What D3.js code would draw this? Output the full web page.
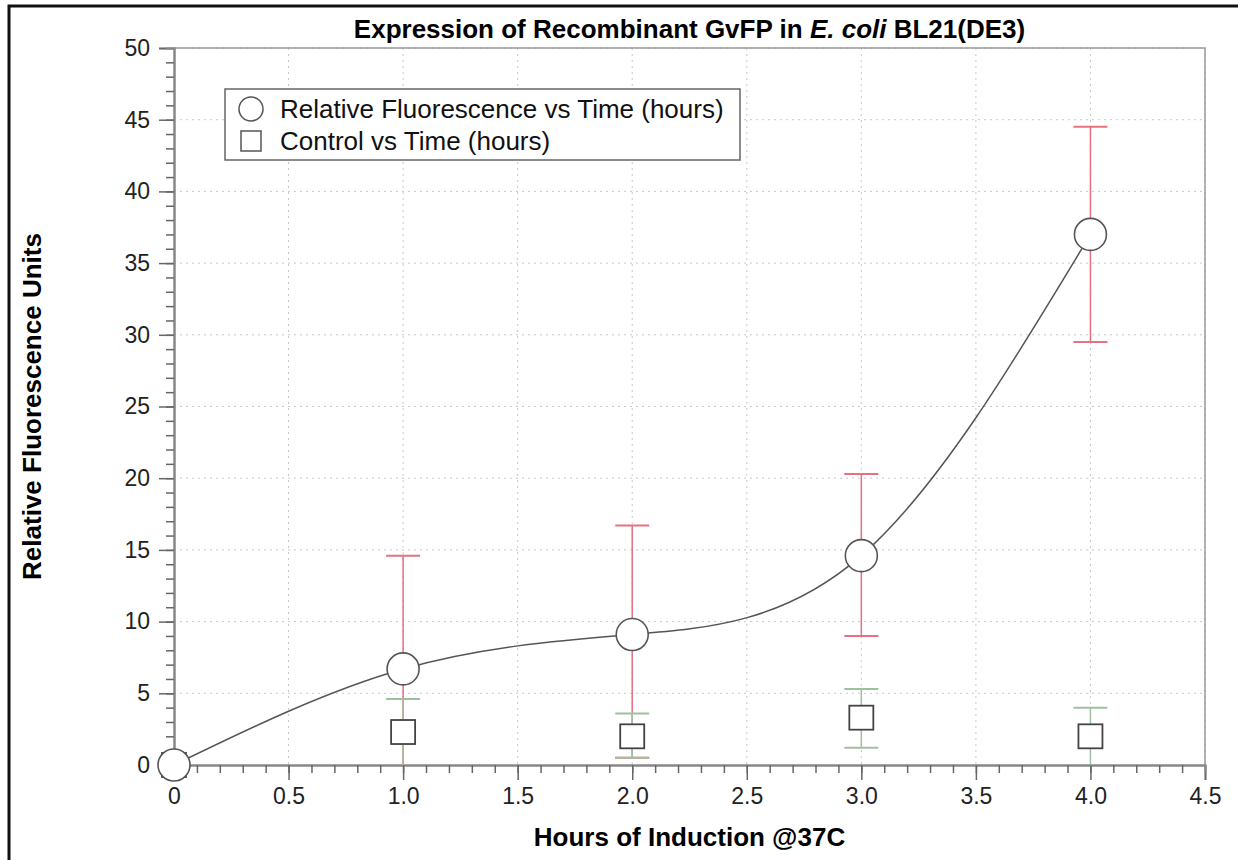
<!DOCTYPE html>
<html>
<head>
<meta charset="utf-8">
<script src="https://cdn.jsdelivr.net/npm/d3@7"></script>
<style>
body { margin: 0; background: #fff; }
svg { font-family: "Liberation Sans", Arial, sans-serif; }
</style>
</head>
<body>
<div id="chart"></div>
<script>
// hours of induction
var aHours = [0, 1, 2, 3, 4];
// relative fluorescence (mean, upper, lower)
var aFluor = [0, 6.7, 9.1, 14.6, 37.0];
var aFluorHi = [0, 14.6, 16.7, 20.3, 44.5];
var aFluorLo = [0, -1.2, 0.5, 9.0, 29.5];
// control
var aCtrl = [0, 2.3, 2.0, 3.3, 2.0];
var aCtrlHi = [0, 4.6, 3.6, 5.3, 4.0];
var aCtrlLo = [0, 0.0, 0.5, 1.2, 0.0];
var aXTicks = [0, 0.5, 1.0, 1.5, 2.0, 2.5, 3.0, 3.5, 4.0, 4.5];
var aXTickLabels = ["0", "0.5", "1.0", "1.5", "2.0", "2.5", "3.0", "3.5", "4.0", "4.5"];
var aYTicks = [0, 5, 10, 15, 20, 25, 30, 35, 40, 45, 50];
var aLegend = ["Relative Fluorescence vs Time (hours)", "Control vs Time (hours)"];

var iWidth = 1238;
var iHeight = 860;
var iLeft = 174, iRight = 1205, iTop = 48, iBottom = 765;

var svg = d3.select("#chart").append("svg")
	.attr("width", iWidth)
	.attr("height", iHeight);

// outer black frame
svg.append("rect")
	.attr("x", 9).attr("y", 6)
	.attr("width", iWidth + 20).attr("height", iHeight + 20)
	.attr("fill", "none").attr("stroke", "#111").attr("stroke-width", 3);

var xScale = d3.scaleLinear().domain([0, 4.5]).range([iLeft, iRight]);
var yScale = d3.scaleLinear().domain([0, 50]).range([iBottom, iTop]);

// grid
var gGrid = svg.append("g");
gGrid.selectAll(".vg").data(aXTicks.slice(1)).enter().append("line")
	.attr("x1", function(d) { return xScale(d); })
	.attr("x2", function(d) { return xScale(d); })
	.attr("y1", iTop).attr("y2", iBottom)
	.attr("stroke", "#c8c8c8").attr("stroke-dasharray", "2,4");
gGrid.selectAll(".hg").data(aYTicks.slice(1)).enter().append("line")
	.attr("y1", function(d) { return yScale(d); })
	.attr("y2", function(d) { return yScale(d); })
	.attr("x1", iLeft).attr("x2", iRight)
	.attr("stroke", "#c8c8c8").attr("stroke-dasharray", "2,4");

// plot frame top & right
svg.append("path")
	.attr("d", "M" + iLeft + "," + iTop + "H" + iRight + "V" + iBottom)
	.attr("fill", "none").attr("stroke", "#999").attr("stroke-width", 1.5);

// axes
var xAxis = d3.axisBottom(xScale).tickValues(aXTicks).tickSize(15).tickPadding(8)
	.tickFormat(function(d, i) { return aXTickLabels[i]; });
svg.append("g").attr("transform", "translate(0," + iBottom + ")").call(xAxis);
var xMinor = d3.axisBottom(xScale).tickValues(d3.range(0, 45).map(function(i) { return i / 10; })).tickSize(8).tickFormat("");
svg.append("g").attr("transform", "translate(0," + iBottom + ")").call(xMinor);

var yAxis = d3.axisLeft(yScale).tickValues(aYTicks).tickSize(15).tickPadding(9);
svg.append("g").attr("transform", "translate(" + iLeft + ",0)").call(yAxis);
var yMinor = d3.axisLeft(yScale).tickValues(d3.range(0, 50)).tickSize(8).tickFormat("");
svg.append("g").attr("transform", "translate(" + iLeft + ",0)").call(yMinor);

svg.selectAll(".domain").attr("stroke", "#888").attr("stroke-width", 2);
svg.selectAll(".tick line").attr("stroke", "#666").attr("stroke-width", 1.5);
svg.selectAll(".tick text").attr("font-size", 23).attr("fill", "#222")
	.attr("font-family", "Liberation Sans, Arial, sans-serif");

// axis titles
svg.append("text").attr("x", (iLeft + iRight) / 2).attr("y", 846)
	.attr("text-anchor", "middle").attr("font-size", 26).attr("font-weight", "bold")
	.text("Hours of Induction @37C");
svg.append("text").attr("transform", "translate(41," + ((iTop + iBottom) / 2) + ") rotate(-90)")
	.attr("text-anchor", "middle").attr("font-size", 26).attr("font-weight", "bold")
	.text("Relative Fluorescence Units");

// title
var tTitle = svg.append("text").attr("x", (iLeft + iRight) / 2).attr("y", 38)
	.attr("text-anchor", "middle").attr("font-size", 26).attr("font-weight", "bold");
tTitle.append("tspan").text("Expression of Recombinant GvFP in ");
tTitle.append("tspan").attr("font-style", "italic").text("E. coli");
tTitle.append("tspan").text(" BL21(DE3)");

var aFluorData = aHours.map(function(h, i) { return { x: h, y: aFluor[i], hi: aFluorHi[i], lo: aFluorLo[i] }; });
var aCtrlData = aHours.map(function(h, i) { return { x: h, y: aCtrl[i], hi: aCtrlHi[i], lo: aCtrlLo[i] }; });

var gPlot = svg.append("g");

function ClipY(v) { return yScale(Math.max(v, 0)); }

// error bars
function DrawErrors(aData, sColor) {
	var g = gPlot.append("g");
	var eb = g.selectAll("g").data(aData.filter(function(d) { return d.x > 0; })).enter().append("g");
	eb.append("line")
		.attr("x1", function(d) { return xScale(d.x); }).attr("x2", function(d) { return xScale(d.x); })
		.attr("y1", function(d) { return yScale(d.hi); }).attr("y2", function(d) { return ClipY(d.lo); })
		.attr("stroke", sColor).attr("stroke-width", 1.5);
	eb.append("line")
		.attr("x1", function(d) { return xScale(d.x) - 17; }).attr("x2", function(d) { return xScale(d.x) + 17; })
		.attr("y1", function(d) { return yScale(d.hi); }).attr("y2", function(d) { return yScale(d.hi); })
		.attr("stroke", sColor).attr("stroke-width", 2);
	eb.filter(function(d) { return d.lo > 0; }).append("line")
		.attr("x1", function(d) { return xScale(d.x) - 17; }).attr("x2", function(d) { return xScale(d.x) + 17; })
		.attr("y1", function(d) { return yScale(d.lo); }).attr("y2", function(d) { return yScale(d.lo); })
		.attr("stroke", sColor).attr("stroke-width", 2);
}
DrawErrors(aFluorData, "#e8707f");
DrawErrors(aCtrlData, "#9fc09f");

// smooth curve
var line = d3.line().x(function(d) { return xScale(d.x); }).y(function(d) { return yScale(d.y); })
	.curve(d3.curveNatural);
gPlot.append("path").datum(aFluorData).attr("d", line)
	.attr("fill", "none").attr("stroke", "#555").attr("stroke-width", 1.5);

// markers
gPlot.selectAll(".sq").data(aCtrlData).enter().append("rect")
	.attr("x", function(d) { return xScale(d.x) - 12; })
	.attr("y", function(d) { return yScale(d.y) - 12; })
	.attr("width", 24).attr("height", 24)
	.attr("fill", "white").attr("stroke", "#444").attr("stroke-width", 1.8);
gPlot.selectAll(".ci").data(aFluorData).enter().append("circle")
	.attr("cx", function(d) { return xScale(d.x); })
	.attr("cy", function(d) { return yScale(d.y); })
	.attr("r", 16)
	.attr("fill", "white").attr("stroke", "#555").attr("stroke-width", 1.6);

// legend
var gLeg = svg.append("g");
gLeg.append("rect").attr("x", 225).attr("y", 89).attr("width", 515).attr("height", 71)
	.attr("fill", "white").attr("stroke", "#666").attr("stroke-width", 1.5);
gLeg.append("circle").attr("cx", 251).attr("cy", 109).attr("r", 12)
	.attr("fill", "white").attr("stroke", "#555").attr("stroke-width", 1.5);
gLeg.append("rect").attr("x", 241).attr("y", 131).attr("width", 20).attr("height", 20)
	.attr("fill", "white").attr("stroke", "#555").attr("stroke-width", 1.5);
gLeg.selectAll(".lt").data(aLegend).enter().append("text")
	.attr("x", 280).attr("y", function(d, i) { return 118 + i * 32; })
	.attr("font-size", 26).attr("fill", "#111")
	.text(function(d) { return d; });
</script>
</body>
</html>
